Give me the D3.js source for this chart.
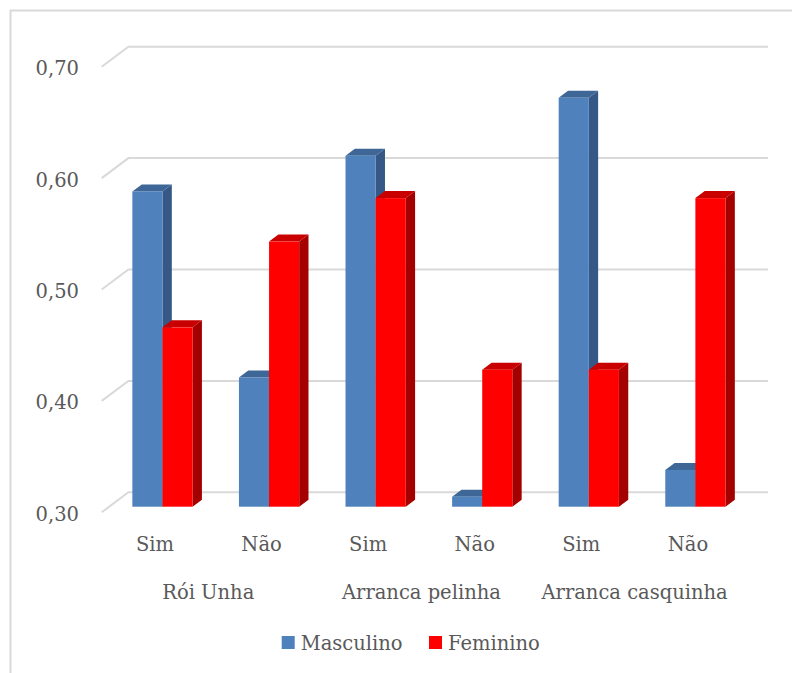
<!DOCTYPE html>
<html>
<head>
<meta charset="utf-8">
<script src="https://cdn.jsdelivr.net/npm/d3@7"></script>
<style>
  html, body { margin: 0; padding: 0; background: #fff; }
  svg { display: block; }
  text { font-family: "DejaVu Serif", "Liberation Serif", serif; fill: #595959; }
</style>
</head>
<body>
<svg id="chart" width="792" height="673"></svg>
<script>
// Proportions by sex for each habit and answer
const categories = ["Sim", "Não", "Sim", "Não", "Sim", "Não"];
const groups = ["Rói Unha", "Arranca pelinha", "Arranca casquinha"];
const seriesNames = ["Masculino", "Feminino"];
const masculino = [0.583, 0.416, 0.615, 0.309, 0.667, 0.333];
const feminino = [0.461, 0.538, 0.577, 0.423, 0.423, 0.577];
const yTicks = [0.30, 0.40, 0.50, 0.60, 0.70];

const svg = d3.select("#chart");
const W = 792, H = 673;
const fontSize = 19.5;

// outer chart frame
svg.append("rect")
  .attr("x", 10.5).attr("y", 10.5)
  .attr("width", W + 10).attr("height", H + 10)
  .attr("fill", "none").attr("stroke", "#d9d9d9").attr("stroke-width", 2);

// 3D projection: front plane plus a depth offset
const depthDX = 26.7, depthDY = -20;
const x0 = d3.scaleBand().domain(d3.range(categories.length)).range([101.7, 741.2]);
const y = d3.scaleLinear().domain([0.30, 0.70]).range([512.3, 66.7]);
const bw = x0.bandwidth();
const x1 = d3.scaleBand().domain(seriesNames).range([bw * 0.2175, bw * 0.7825]);
const proj = (px, v, d) => [px + depthDX * d, y(v) + depthDY * d];

// gridlines on the back wall with the floor/side edge at the left
const grid = svg.append("g");
yTicks.forEach(t => {
  const a = proj(x0.range()[0], t, 0);
  const b = proj(x0.range()[0], t, 1);
  const c = proj(x0.range()[1], t, 1);
  grid.append("path")
    .attr("d", `M${a[0]},${a[1]}L${b[0]},${b[1]}L${c[0]},${c[1]}`)
    .attr("fill", "none").attr("stroke", "#d9d9d9").attr("stroke-width", 2);
});

// y-axis tick labels
const fmt = v => v.toFixed(2).replace(".", ",");
svg.append("g").selectAll("text").data(yTicks).join("text")
  .attr("x", 79)
  .attr("y", d => y(d) + 3)
  .attr("text-anchor", "end")
  .attr("dominant-baseline", "middle")
  .attr("font-size", fontSize)
  .text(fmt);

// bars
const colors = {
  Masculino: { front: "#4f81bd", side: "#355886", top: "#3e6797" },
  Feminino: { front: "#ff0000", side: "#a50000", top: "#c80000" }
};
const dFront = 0.28, dBack = 0.63;
const base = y.domain()[0];
const barData = [];
categories.forEach((c, i) => {
  barData.push({ i, s: "Masculino", v: masculino[i] });
  barData.push({ i, s: "Feminino", v: feminino[i] });
});

const bars = svg.append("g");
barData.forEach(b => {
  const xl = x0(b.i) + x1(b.s);
  const xr = xl + x1.bandwidth();
  const col = colors[b.s];
  const pt = (px, v, d) => proj(px, v, d).join(",");
  const g = bars.append("g");
  // right side face
  g.append("path")
    .attr("d", `M${pt(xr, base, dFront)}L${pt(xr, b.v, dFront)}L${pt(xr, b.v, dBack)}L${pt(xr, base, dBack)}Z`)
    .attr("fill", col.side);
  // top face
  g.append("path")
    .attr("d", `M${pt(xl, b.v, dFront)}L${pt(xr, b.v, dFront)}L${pt(xr, b.v, dBack)}L${pt(xl, b.v, dBack)}Z`)
    .attr("fill", col.top);
  // front face
  const f0 = proj(xl, b.v, dFront), f1 = proj(xr, base, dFront);
  g.append("rect")
    .attr("x", f0[0]).attr("y", f0[1])
    .attr("width", f1[0] - f0[0]).attr("height", f1[1] - f0[1])
    .attr("fill", col.front);
});

// category labels
svg.append("g").selectAll("text").data(categories).join("text")
  .attr("x", (d, i) => x0(i) + bw / 2)
  .attr("y", 551)
  .attr("text-anchor", "middle")
  .attr("font-size", fontSize)
  .text(d => d);

// group labels
svg.append("g").selectAll("text").data(groups).join("text")
  .attr("x", (d, i) => x0(i * 2) + bw)
  .attr("y", 599)
  .attr("text-anchor", "middle")
  .attr("font-size", fontSize)
  .text(d => d);

// legend
const legendX = [281.7, 429];
const legend = svg.append("g");
seriesNames.forEach((s, i) => {
  legend.append("rect")
    .attr("x", legendX[i]).attr("y", 636)
    .attr("width", 13).attr("height", 13)
    .attr("fill", colors[s].front);
  legend.append("text")
    .attr("x", legendX[i] + 19).attr("y", 650)
    .attr("font-size", fontSize)
    .text(s);
});
</script>
</body>
</html>
